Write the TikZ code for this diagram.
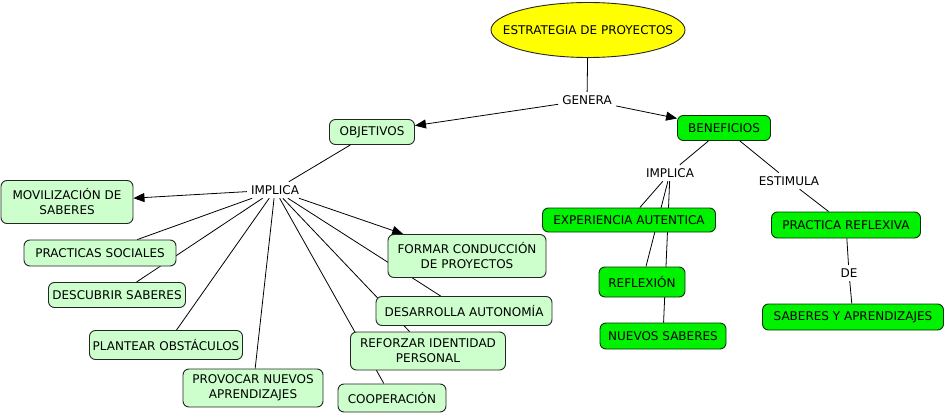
\documentclass[tikz,border=0pt]{standalone}
\usepackage{fontspec}
\setmainfont{DejaVu Sans}
\usetikzlibrary{arrows.meta,backgrounds,shapes.geometric}
\definecolor{lightg}{HTML}{CCFFCC}
\definecolor{brightg}{HTML}{00F200}
\definecolor{yel}{HTML}{FFFF00}
\begin{document}
\begin{tikzpicture}[x=1pt,y=-1pt,
  font=\fontsize{12}{15}\selectfont,
  lightbox/.style={draw=black!85, fill=lightg, rounded corners=6pt, line width=0.9pt, inner sep=0pt, align=center},
  brightbox/.style={lightbox, fill=brightg, draw=black!80!green},
  lbl/.style={inner xsep=4pt, inner ysep=3.5pt},
  con/.style={line width=0.8pt, black},
  arr/.style={con, -{Triangle[length=11pt,width=9pt]}}]
\useasboundingbox (0,0) rectangle (947,414);

\node[ellipse, draw=black!85, fill=yel, line width=0.9pt, minimum width=194pt, minimum height=55pt, inner sep=0pt] (est) at (588,30) {\makebox[0pt]{ESTRATEGIA DE PROYECTOS}};
\node[lbl] (genera) at (587,100) {GENERA};

\node[lightbox, minimum width=85pt, minimum height=25pt] (obj) at (372,132) {OBJETIVOS};
\node[brightbox, minimum width=93pt, minimum height=25pt] (ben) at (724,128) {BENEFICIOS};

\node[lbl] (impl) at (275,190) {IMPLICA};
\node[lightbox, minimum width=132pt, minimum height=43pt] (mov) at (67,202) {MOVILIZACIÓN DE\\SABERES};
\node[lightbox, minimum width=152pt, minimum height=26pt] (prac) at (100,253) {PRACTICAS SOCIALES};
\node[lightbox, minimum width=137pt, minimum height=25pt] (desc) at (117,295) {DESCUBRIR SABERES};
\node[lightbox, minimum width=153pt, minimum height=29pt] (plan) at (166,345) {PLANTEAR OBSTÁCULOS};
\node[lightbox, minimum width=140pt, minimum height=38pt] (prov) at (253,388) {PROVOCAR NUEVOS\\APRENDIZAJES};
\node[lightbox, minimum width=108pt, minimum height=28pt] (coop) at (392,398) {COOPERACIÓN};
\node[lightbox, minimum width=155pt, minimum height=38pt] (refo) at (428,351) {REFORZAR IDENTIDAD\\PERSONAL};
\node[lightbox, minimum width=176pt, minimum height=29pt] (desa) at (464,311) {DESARROLLA AUTONOMÍA};
\node[lightbox, minimum width=158pt, minimum height=43pt] (form) at (467,256) {FORMAR CONDUCCIÓN\\DE PROYECTOS};

\node[lbl] (impr) at (670,173) {IMPLICA};
\node[lbl] (estim) at (789,181) {ESTIMULA};
\node[brightbox, minimum width=173pt, minimum height=24pt] (exp) at (629,220) {EXPERIENCIA AUTENTICA};
\node[brightbox, minimum width=86pt, minimum height=30pt] (refl) at (642,282) {REFLEXIÓN};
\node[brightbox, minimum width=126pt, minimum height=26pt] (nue) at (663,336) {NUEVOS SABERES};
\node[brightbox, minimum width=149pt, minimum height=26pt] (prr) at (846,225) {PRACTICA REFLEXIVA};
\node[lbl] (de) at (849,273) {DE};
\node[brightbox, minimum width=181pt, minimum height=26pt] (sab) at (853,317) {SABERES Y APRENDIZAJES};

\begin{pgfonlayer}{background}
\fill[white] (0,0) rectangle (947,414);
\draw[con] (est) -- (genera);
\draw[arr] (genera) -- (obj);
\draw[arr] (genera) -- (ben);
\draw[con] (obj) -- (impl);
\draw[arr] (impl) -- (mov);
\draw[arr] (impl) -- (form);
\foreach \t in {prac,desc,plan,prov,coop,refo,desa}
  \draw[con] (impl) -- (\t);
\draw[con] (ben) -- (impr);
\draw[con] (ben) -- (estim);
\foreach \t in {exp,refl,nue}
  \draw[con] (impr) -- (\t);
\draw[con] (estim) -- (prr);
\draw[con] (prr) -- (de);
\draw[con] (de) -- (sab);
\end{pgfonlayer}
\end{tikzpicture}
\end{document}
